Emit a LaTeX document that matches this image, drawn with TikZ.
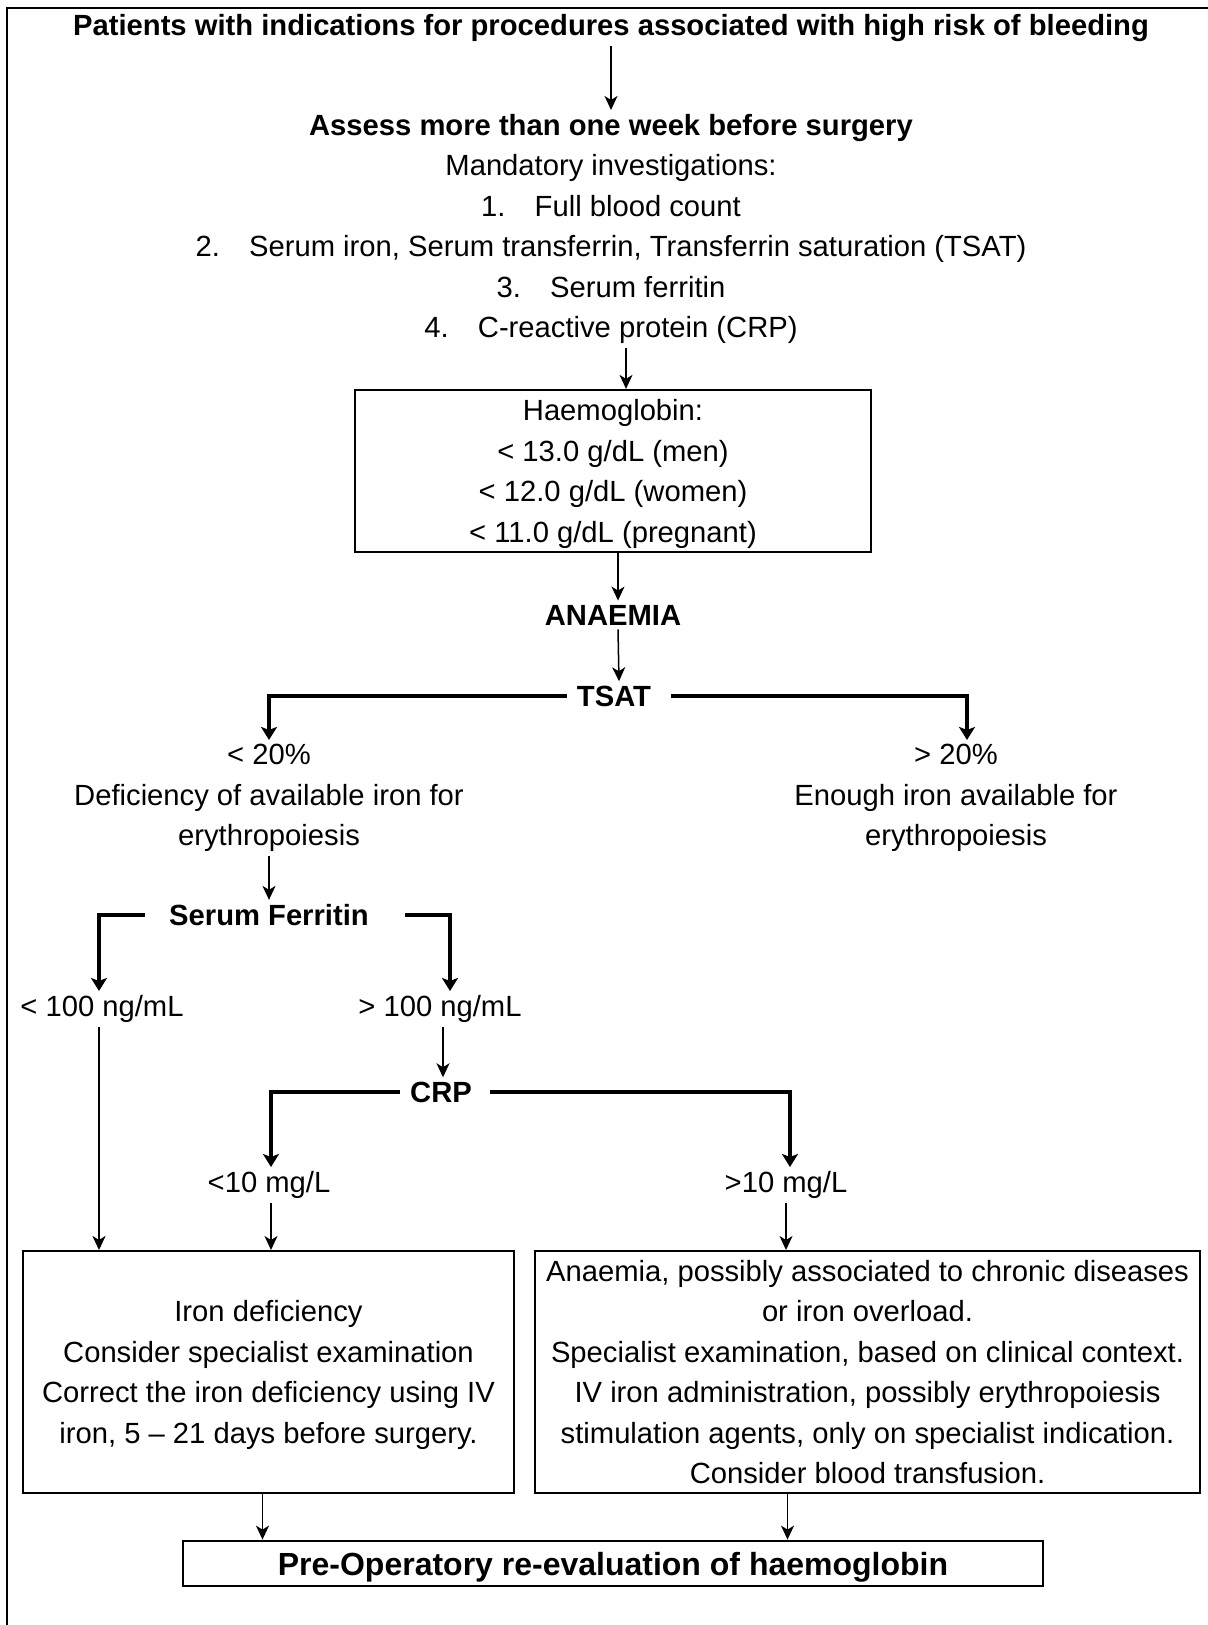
\documentclass[tikz,border=0pt]{standalone}
\usepackage{fontspec}
\setmainfont{Liberation Sans}
\usetikzlibrary{arrows.meta}

\begin{document}
\begin{tikzpicture}[x=0.5pt, y=-0.5pt,
  txt/.style={font=\fontsize{14.6}{20.2}\selectfont, align=center, inner sep=2pt},
  hd/.style={txt, font=\fontsize{14.6}{20.2}\selectfont\bfseries},
  box/.style={txt, draw, line width=1pt},
  thin/.style={-{Stealth[length=7pt,width=6.5pt,inset=2pt]}, line width=0.75pt},
  branch/.style={-{Stealth[length=6.5pt,width=8pt,inset=1.5pt]}, line width=1.75pt}]
\useasboundingbox (0,0) rectangle (1208,1625);
\draw[line width=1.2pt] (1208,8) -- (7,8) -- (7,1625);

\node[hd] (title) at (611,28) {Patients with indications for procedures associated with high risk of bleeding};
\node[txt] (inv) at (611,229) {\textbf{Assess more than one week before surgery}\\Mandatory investigations:\\1.\quad Full blood count\\2.\quad Serum iron, Serum transferrin, Transferrin saturation (TSAT)\\3.\quad Serum ferritin\\4.\quad C-reactive protein (CRP)};
\node[box, minimum width=258pt, minimum height=80.5pt] (hb) at (613,471) {\rule{0pt}{13.5pt}Haemoglobin:\\< 13.0 g/dL (men)\\< 12.0 g/dL (women)\\< 11.0 g/dL (pregnant)};
\node[hd] (anaemia) at (613,615) {ANAEMIA};
\node[hd] (tsat) at (614,696) {TSAT};
\node[txt] (lo20) at (269,798) {< 20\%\\Deficiency of available iron for\\erythropoiesis};
\node[txt] (hi20) at (956,798) {> 20\%\\Enough iron available for\\erythropoiesis};
\node[hd] (ferr) at (269,915) {Serum Ferritin};
\node[txt] (lo100) at (102,1009) {< 100 ng/mL};
\node[txt] (hi100) at (440,1009) {> 100 ng/mL};
\node[hd] (crp) at (441,1092) {CRP};
\node[txt] (lo10) at (269,1185) {<10 mg/L};
\node[txt] (hi10) at (786,1185) {>10 mg/L};
\node[box, minimum width=245.5pt, minimum height=121pt] (iddef) at (268.5,1372) {\rule{0pt}{13.5pt}Iron deficiency\\Consider specialist examination\\Correct the iron deficiency using IV\\iron, 5 -- 21 days before surgery.};
\node[box, minimum width=332.5pt, minimum height=121pt] (chronic) at (867.5,1372) {Anaemia, possibly associated to chronic diseases\\or iron overload.\\Specialist examination, based on clinical context.\\IV iron administration, possibly erythropoiesis\\stimulation agents, only on specialist indication.\\Consider blood transfusion.};
\node[box, minimum width=430pt, minimum height=22.5pt, text height=15.5pt, font=\fontsize{16}{20}\selectfont\bfseries] (preop) at (613,1563.5) {Pre-Operatory re-evaluation of haemoglobin};

\draw[thin] (title.south) -- (inv.north);
\draw[thin] ([xshift=7.5pt]inv.south) -- ([xshift=7.5pt]inv.south |- hb.north);
\draw[thin] ([xshift=2.5pt]hb.south) -- ([xshift=2.5pt]anaemia.north);
\draw[thin] ([xshift=2.5pt]anaemia.south) -- ([xshift=2.5pt]tsat.north);
\draw[branch] ([xshift=-3pt]tsat.west) -| (lo20.north);
\draw[branch] ([xshift=8pt]tsat.east) -| ([xshift=5.5pt]hi20.north);
\draw[thin] (lo20.south) -- (ferr.north);
\draw[branch] ([xshift=-10pt]ferr.west) -| ([xshift=-1.5pt]lo100.north);
\draw[branch] ([xshift=16pt]ferr.east) -| ([xshift=5pt]hi100.north);
\draw[thin] ([xshift=1.5pt]hi100.south) -- ([xshift=1.5pt]hi100.south |- crp.north);
\draw[thin, line width=1.1pt] ([xshift=-1.5pt]lo100.south) -- ([xshift=-1.5pt]lo100.south |- iddef.north);
\draw[branch] ([xshift=-3pt]crp.west) -| ([xshift=1pt]lo10.north);
\draw[branch] ([xshift=7pt]crp.east) -| ([xshift=2pt]hi10.north);
\draw[thin] ([xshift=1pt]lo10.south) -- ([xshift=1pt]lo10.south |- iddef.north);
\draw[thin] (hi10.south) -- (hi10.south |- chronic.north);
\draw[thin] ([xshift=-3pt]iddef.south) -- ([xshift=-3pt]iddef.south |- preop.north);
\draw[thin] ([xshift=-40pt]chronic.south) -- ([xshift=-40pt]chronic.south |- preop.north);
\end{tikzpicture}
\end{document}
